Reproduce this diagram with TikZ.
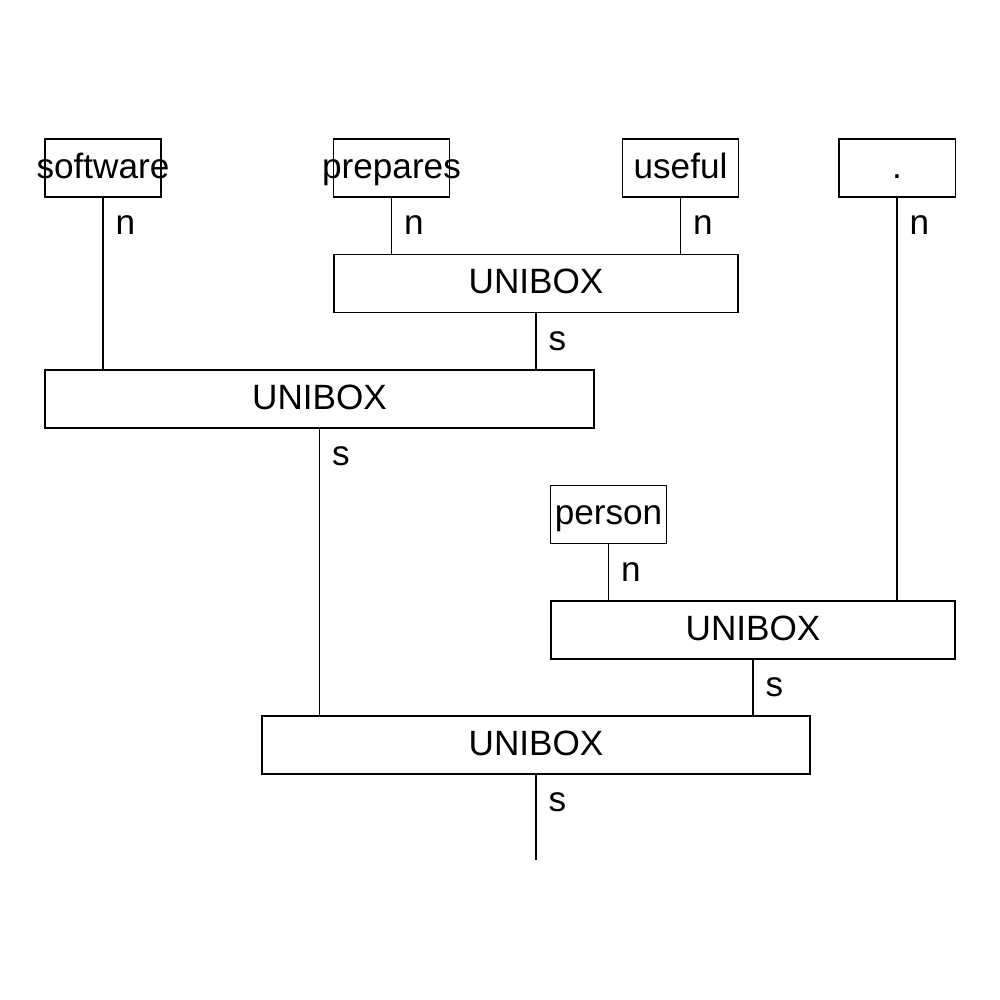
\documentclass[tikz,border=0pt]{standalone}
\usepackage{fontspec}
\setmainfont{Liberation Sans}
\usepackage{tikz}
\tikzstyle{txt} = [inner sep=0pt, text height=0.72em, text depth=0.14em, font=\fontsize{10}{12}\selectfont]
\tikzstyle{word} = [rectangle, minimum width=1.16cm, minimum height=0.58cm, inner sep=0pt, draw=black, line width=0.3pt, label={[txt]center:#1}]
\tikzstyle{unibox} = [rectangle, minimum height=0.58cm, inner sep=0pt, text centered, draw=black, line width=0.3pt, txt]
\tikzstyle{link} = [line width=0.3pt]
\tikzstyle{lab} = [pos=0, anchor=west, inner sep=0pt, xshift=0.12cm, yshift=-0.28cm, font=\fontsize{10}{12}\selectfont]

\begin{document}
\begin{tikzpicture}
        \useasboundingbox (0,0) rectangle (10,10);
        \node (software) [word=software] at (1.03,8.32) {};
        \node (prepares) [word=prepares] at (3.915,8.32) {};
        \node (useful) [word=useful] at (6.805,8.32) {};
        \node (dot) [word=.] at (8.97,8.32) {};
        \node (uniA) [unibox, minimum width=4.04cm] at (5.36,7.165) {UNIBOX};
        \node (uniB) [unibox, minimum width=5.49cm] at (3.195,6.01) {UNIBOX};
        \node (person) [word=person] at (6.085,4.855) {};
        \node (uniC) [unibox, minimum width=4.04cm] at (7.53,3.70) {UNIBOX};
        \node (uniD) [unibox, minimum width=5.48cm] at (5.36,2.55) {UNIBOX};
        \coordinate (out) at (5.36,1.40);

        \draw [link] (prepares.south) -- (prepares.south |- uniA.north) node[lab] {n};
        \draw [link] (useful.south) -- (useful.south |- uniA.north) node[lab] {n};
        \draw [link] (software.south) -- (software.south |- uniB.north) node[lab] {n};
        \draw [link] (uniA.south) -- (uniA.south |- uniB.north) node[lab] {s};
        \draw [link] (person.south) -- (person.south |- uniC.north) node[lab] {n};
        \draw [link] (dot.south) -- (dot.south |- uniC.north) node[lab] {n};
        \draw [link] (uniB.south) -- (uniB.south |- uniD.north) node[lab] {s};
        \draw [link] (uniC.south) -- (uniC.south |- uniD.north) node[lab] {s};
        \draw [link] (uniD.south) -- (out) node[lab] {s};
    \end{tikzpicture}
\end{document}
